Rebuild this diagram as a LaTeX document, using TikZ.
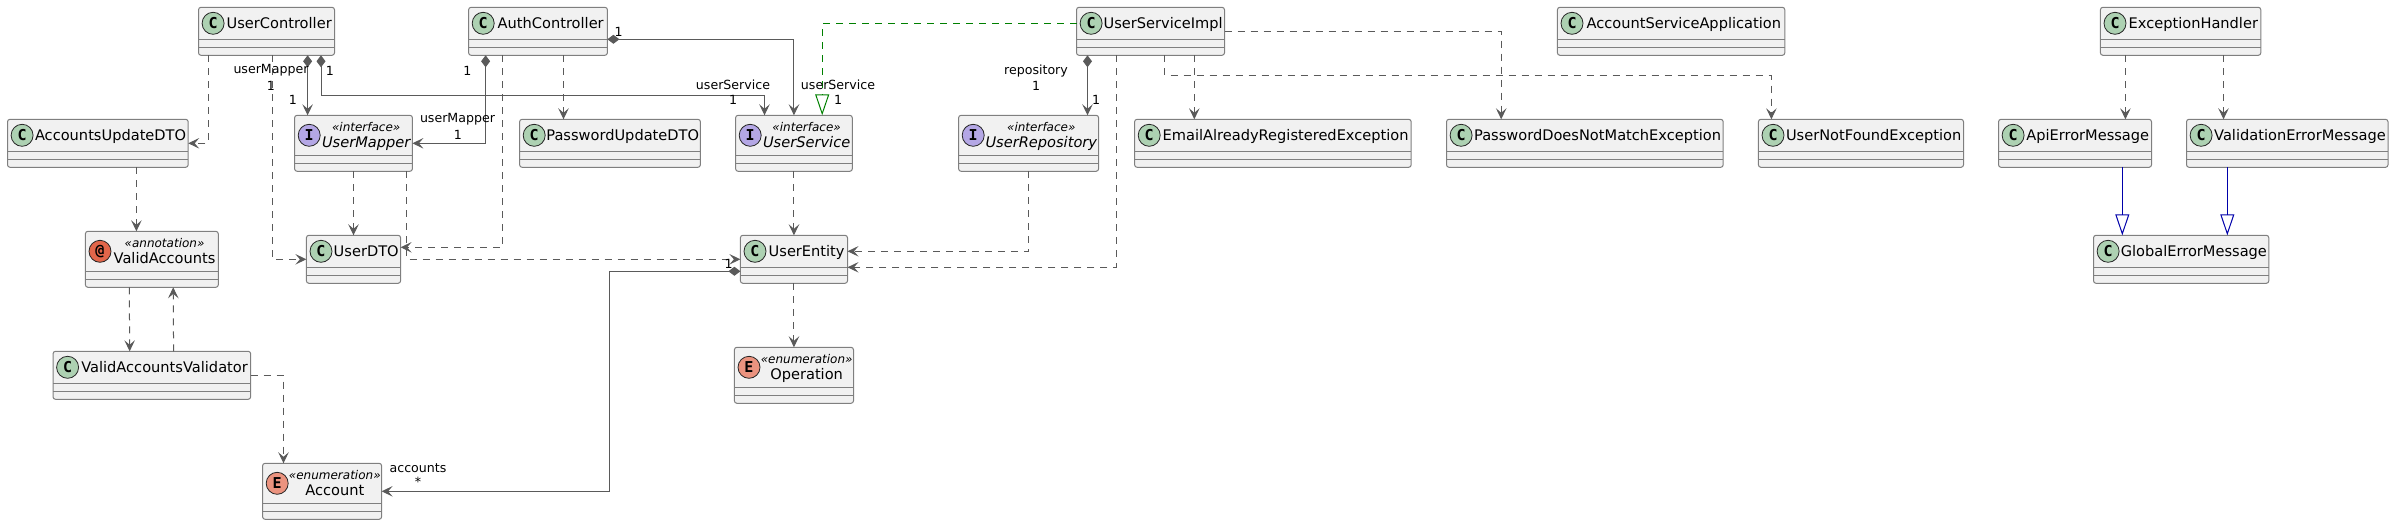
\documentclass[tikz,border=0pt]{standalone}
\usepackage{fontspec}
\setmainfont{DejaVu Sans}
\setmonofont{DejaVu Sans Mono}
\usetikzlibrary{arrows.meta,positioning}

\definecolor{boxline}{HTML}{7F7F7F}
\definecolor{boxfill}{HTML}{F1F1F1}
\definecolor{linkgrey}{HTML}{5A5A5A}
\definecolor{spotclass}{HTML}{ADD1B2}
\definecolor{spotinterface}{HTML}{B4A7E5}
\definecolor{spotenum}{HTML}{EB937F}
\definecolor{spotannotation}{HTML}{E3664A}
\definecolor{realizegreen}{HTML}{008000}
\definecolor{extendblue}{HTML}{0000AA}

\newcommand{\stereotyped}[2]{\shortstack{{\fontsize{12}{14}\selectfont\itshape «#1»}\\[1.5pt]#2}}

\begin{document}
\begin{tikzpicture}[
    x=1pt, y=1pt,
    spot/.style={circle, draw=black!85, line width=0.8pt, minimum size=22pt, inner sep=0pt, anchor=center, xshift=14.6pt, yshift=-16pt, font=\fontsize{15}{15}\selectfont\ttfamily\bfseries},
    lowspot/.style={spot, yshift=-4pt},
    umlbox/.style={rectangle, draw=boxline, fill=boxfill, line width=1pt, rounded corners=2.5pt, inner sep=0pt, outer sep=0pt, font=\fontsize{14.6}{17}\selectfont, execute at begin node=\hspace*{25.4pt},
        path picture={
            \draw[boxline, line width=1pt] ([yshift=16pt]path picture bounding box.south west) -- ([yshift=16pt]path picture bounding box.south east);
            \draw[boxline, line width=1pt] ([yshift=8pt]path picture bounding box.south west) -- ([yshift=8pt]path picture bounding box.south east);
        }},
    classbox/.style={umlbox, text height=21pt, text depth=27pt, label={[spot, fill=spotclass]north west:C}},
    interfacebox/.style={umlbox, text height=32pt, text depth=24pt, label={[lowspot, fill=spotinterface]north west:I}},
    enumbox/.style={umlbox, text height=32pt, text depth=24pt, label={[lowspot, fill=spotenum]north west:E}},
    annotationbox/.style={umlbox, text height=32pt, text depth=24pt, label={[lowspot, fill=spotannotation]north west:@}},
    rolelabel/.style={inner sep=0pt, font=\fontsize{12.6}{15}\selectfont},
    depends/.style={linkgrey, line width=1pt, dash pattern=on 7pt off 6pt, -{Stealth[length=11pt,width=10.5pt,inset=4.5pt]}},
    owns/.style={linkgrey, line width=1pt, {Diamond[length=12pt,width=9pt]}-{Stealth[length=11pt,width=10.5pt,inset=4.5pt]}},
    realizes/.style={realizegreen, line width=1pt, dash pattern=on 7pt off 6pt, -{Triangle[open,length=21pt,width=14pt]}},
    extends/.style={extendblue, line width=1pt, -{Triangle[open,length=21pt,width=14pt]}}
]

\useasboundingbox (0,0) rectangle (2393,-525);

% Top row
\node[classbox, anchor=north west, minimum width=136pt] (usercontroller) at (198.5,-7.3) {UserController};
\node[classbox, right=134.1pt of usercontroller, minimum width=138.8pt] (authcontroller) {AuthController};
\node[classbox, right=469.1pt of authcontroller, minimum width=148pt] (userserviceimpl) {UserServiceImpl};
\node[classbox, right=332.9pt of userserviceimpl, minimum width=227.4pt] (accountserviceapp) {AccountServiceApplication};
\node[classbox, right=315.6pt of accountserviceapp, minimum width=160.4pt] (exceptionhandler) {ExceptionHandler};

% Second row
\node[classbox, anchor=north west, minimum width=180.7pt] (accountsupdatedto) at (7.5,-119.3) {AccountsUpdateDTO};
\node[interfacebox, anchor=north west, minimum width=117.8pt] (usermapper) at (294.6,-115.3) {\stereotyped{interface}{\itshape UserMapper}};
\node[classbox, anchor=north west, minimum width=180.8pt] (passwordupdatedto) at (519.6,-119.3) {PasswordUpdateDTO};
\node[interfacebox, anchor=north west, minimum width=116.7pt] (userservice) at (735.6,-115.3) {\stereotyped{interface}{\itshape UserService}};
\node[interfacebox, anchor=north west, minimum width=140pt] (userrepository) at (958.6,-115.3) {\stereotyped{interface}{\itshape UserRepository}};
\node[classbox, anchor=north west, minimum width=276.6pt] (emailexception) at (1134.6,-119.3) {EmailAlreadyRegisteredException};
\node[classbox, right=35.3pt of emailexception, minimum width=276.7pt] (passwordexception) {PasswordDoesNotMatchException};
\node[classbox, right=35.2pt of passwordexception, minimum width=205.1pt] (notfoundexception) {UserNotFoundException};
\node[classbox, right=35pt of notfoundexception, minimum width=153pt] (apierror) {ApiErrorMessage};
\node[classbox, right=35pt of apierror, minimum width=201.5pt] (validationerror) {ValidationErrorMessage};

% Third row
\node[annotationbox, anchor=north west, minimum width=132.9pt] (validaccounts) at (85.4,-231.3) {\stereotyped{annotation}{ValidAccounts}};
\node[classbox, below=64pt of usermapper, minimum width=94.2pt] (userdto) {UserDTO};
\node[classbox, below=64pt of userservice, minimum width=107.1pt] (userentity) {UserEntity};
\node[classbox, anchor=north west, minimum width=175.3pt] (globalerror) at (2093.5,-235.3) {GlobalErrorMessage};

% Lower rows
\node[classbox, below=64pt of validaccounts, minimum width=197.7pt] (validator) {ValidAccountsValidator};
\node[enumbox, below=64pt of userentity, minimum width=119.1pt] (operation) {\stereotyped{enumeration}{Operation}};
\node[enumbox, anchor=north west, minimum width=119pt] (account) at (262.6,-463.3) {\stereotyped{enumeration}{Account}};

% UserController links
\draw[depends] ([xshift=9.9pt]usercontroller.south west) |- (accountsupdatedto.east);
\draw[depends] ([xshift=73.5pt]usercontroller.south west) |- (userdto.west);
\draw[owns] ([xshift=109.1pt]usercontroller.south west) -- ([xshift=13pt]usermapper.north west);
\draw[owns] ([xshift=122.5pt]usercontroller.south west) -- ++(0,-40) -| ([xshift=28.9pt]userservice.north west);

% AuthController links
\draw[owns] ([xshift=17pt]authcontroller.south west) |- (usermapper.east);
\draw[depends] ([xshift=34pt]authcontroller.south west) |- ([yshift=12pt]userdto.east);
\draw[depends] ([xshift=94.9pt]authcontroller.south west) -- ([xshift=43.9pt]passwordupdatedto.north west);
\draw[owns] ([yshift=-8pt]authcontroller.east) -| (userservice.north);

% UserServiceImpl links
\draw[realizes] ([yshift=8pt]userserviceimpl.west) -| ([xshift=86.6pt]userservice.north west);
\draw[owns] ([xshift=11pt]userserviceimpl.south west) -- ([xshift=128.9pt]userrepository.north west);
\draw[depends] ([xshift=39.9pt]userserviceimpl.south west) |- ([yshift=-8pt]userentity.east);
\draw[depends] ([xshift=117.8pt]userserviceimpl.south west) -- ([xshift=59.7pt]emailexception.north west);
\draw[depends] ([xshift=88.1pt]userserviceimpl.south west) -- ++(0,-20) -| ([xshift=13pt]notfoundexception.north west);
\draw[depends] (userserviceimpl.east) -| ([xshift=54.7pt]passwordexception.north west);

% Validation links
\draw[depends] ([xshift=128.9pt]accountsupdatedto.south west) -- ([xshift=51pt]validaccounts.north west);
\draw[depends] ([xshift=43.9pt]validaccounts.south west) -- ([xshift=76.7pt]validator.north west);
\draw[depends] ([xshift=120.6pt]validator.north west) -- ([xshift=87.8pt]validaccounts.south west);
\draw[depends] (validator.east) -| ([xshift=20.9pt]account.north west);

% Mapper and entity links
\draw[depends] (usermapper.south) -- (userdto.north);
\draw[depends] ([xshift=111.9pt]usermapper.south west) |- (userentity.west);
\draw[owns] ([yshift=-12pt]userentity.west) -- ++(-131.4,0) |- (account.east);
\draw[depends] (userservice.south) -- (userentity.north);
\draw[depends] (userrepository.south) |- ([yshift=8pt]userentity.east);
\draw[depends] (userentity.south) -- (operation.north);

% Error message links
\draw[depends] ([xshift=25pt]exceptionhandler.south west) -- ([xshift=126.9pt]apierror.north west);
\draw[depends] ([xshift=123.1pt]exceptionhandler.south west) -- ([xshift=37pt]validationerror.north west);
\draw[extends] ([xshift=123.8pt]apierror.south west) -- ([xshift=28.8pt]globalerror.north west);
\draw[extends] ([xshift=40.8pt]validationerror.south west) -- ([xshift=133.8pt]globalerror.north west);

% Role names and multiplicities
\node[rolelabel] (ucmapperrole) at (271,-70.7) {userMapper};
\node[rolelabel] (ucmapperone) at (271,-86) {1};
\node[rolelabel] (ucmappermany) at (293,-100) {1};
\node[rolelabel] (ucserviceone) at (330,-70.7) {1};
\node[rolelabel] (ucservicerole) at (733,-84.7) {userService};
\node[rolelabel] (ucservicemany) at (733,-100) {1};
\node[rolelabel] (acmapperone) at (467.4,-70.7) {1};
\node[rolelabel] (acmapperrole) at (457.5,-119.3) {userMapper};
\node[rolelabel] (acmappermany) at (458,-135) {1};
\node[rolelabel] (acserviceone) at (618.6,-32) {1};
\node[rolelabel] (implservicerole) at (838,-84.7) {userService};
\node[rolelabel] (implservicemany) at (838,-100) {1};
\node[rolelabel] (implreporole) at (1036,-70.7) {repository};
\node[rolelabel] (implrepoone) at (1036,-86) {1};
\node[rolelabel] (implrepomany) at (1096,-100) {1};
\node[rolelabel] (entityone) at (728.5,-264) {1};
\node[rolelabel] (accountsrole) at (418,-467.7) {accounts};
\node[rolelabel] (accountsmany) at (418,-481.7) {*};

\end{tikzpicture}
\end{document}
